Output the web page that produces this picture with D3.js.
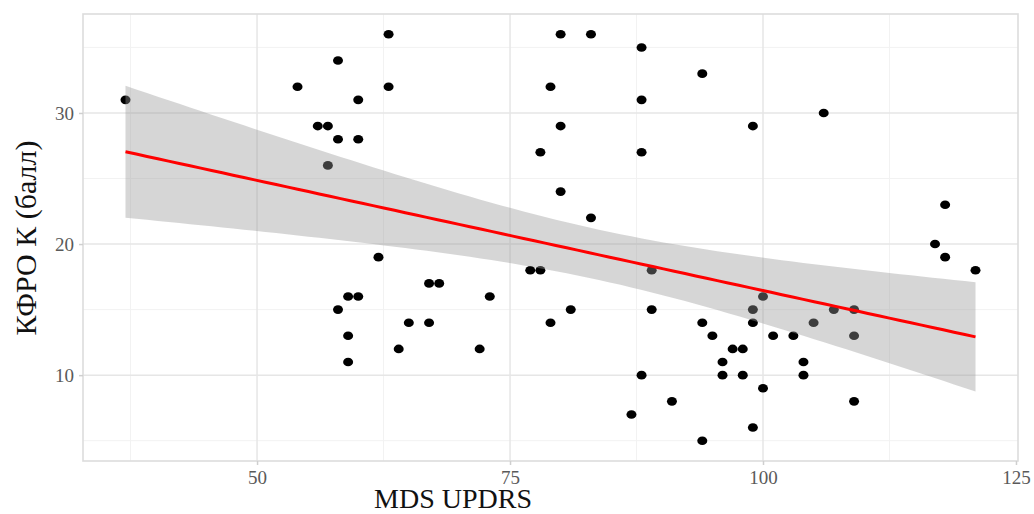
<!DOCTYPE html>
<html>
<head>
<meta charset="utf-8">
<script src="https://cdn.jsdelivr.net/npm/d3@7"></script>
<style>
  html, body { margin: 0; padding: 0; background: #fff; }
  svg { display: block; }
</style>
</head>
<body>
<svg id="chart" width="1034" height="514"></svg>
<script>
// MDS UPDRS score vs КФРО К score, one entry per patient
const updrs = [37, 54, 56, 57, 57, 58, 58, 58, 59, 60, 59, 59, 60, 60, 62, 63, 63, 64, 65, 67,
  68, 67, 72, 73, 77, 78, 78, 79, 79, 80, 80, 80, 81, 83, 83, 87, 88, 88, 88, 88,
  89, 89, 91, 94, 94, 94, 95, 96, 96, 97, 98, 98, 99, 99, 99, 99, 100, 100, 101, 103,
  104, 104, 105, 106, 107, 109, 109, 109, 117, 118, 118, 121];
const kfro = [31, 32, 29, 29, 26, 34, 28, 15, 16, 16, 13, 11, 31, 28, 19, 36, 32, 12, 14, 17,
  17, 14, 12, 16, 18, 18, 27, 32, 14, 36, 29, 24, 15, 36, 22, 7, 35, 31, 27, 10,
  18, 15, 8, 33, 14, 5, 13, 11, 10, 12, 12, 10, 29, 15, 14, 6, 16, 9, 13, 13,
  11, 10, 14, 30, 15, 15, 13, 8, 20, 23, 19, 18];
const xTicks = [50, 75, 100, 125];
const yTicks = [10, 20, 30];
const xTitle = "MDS UPDRS";
const yTitle = "КФРО К (балл)";
// Student t quantile, 0.975, df = n - 2 = 70
const tCrit = 1.994;

const svg = d3.select("#chart");
const m = { left: 83, right: 1018, top: 14, bottom: 461 };

// ggplot-style 5% padding on both scales
const pad = (ext) => { const s = ext[1] - ext[0]; return [ext[0] - 0.05 * s, ext[1] + 0.05 * s]; };
const x = d3.scaleLinear().domain(pad(d3.extent(updrs))).range([m.left, m.right]);
const y = d3.scaleLinear().domain(pad(d3.extent(kfro))).range([m.bottom, m.top]);

// grid: minor then major
const xMinor = d3.range(37.5, 125, 25);
const yMinor = [5, 15, 25, 35];
const g = svg.append("g");
g.selectAll(".xmin").data(xMinor).join("line")
  .attr("x1", d => x(d)).attr("x2", d => x(d)).attr("y1", m.top).attr("y2", m.bottom)
  .attr("stroke", "#f2f2f2").attr("stroke-width", 1);
g.selectAll(".ymin").data(yMinor).join("line")
  .attr("x1", m.left).attr("x2", m.right).attr("y1", d => y(d)).attr("y2", d => y(d))
  .attr("stroke", "#f2f2f2").attr("stroke-width", 1);
g.selectAll(".xmaj").data(xTicks.filter(v => x(v) < m.right - 3)).join("line")
  .attr("x1", d => x(d)).attr("x2", d => x(d)).attr("y1", m.top).attr("y2", m.bottom)
  .attr("stroke", "#e6e6e6").attr("stroke-width", 1.5);
g.selectAll(".ymaj").data(yTicks).join("line")
  .attr("x1", m.left).attr("x2", m.right).attr("y1", d => y(d)).attr("y2", d => y(d))
  .attr("stroke", "#e6e6e6").attr("stroke-width", 1.5);

// points
svg.append("g").selectAll("ellipse").data(updrs.map((u, i) => [u, kfro[i]])).join("ellipse")
  .attr("cx", d => x(d[0])).attr("cy", d => y(d[1]))
  .attr("rx", 5).attr("ry", 4.3).attr("fill", "#000");

// linear fit with 95% confidence band
const n = updrs.length;
const mx = d3.mean(updrs), my = d3.mean(kfro);
let sxx = 0, sxy = 0;
updrs.forEach((u, i) => { sxx += (u - mx) ** 2; sxy += (u - mx) * (kfro[i] - my); });
const b = sxy / sxx, a = my - b * mx;
let sse = 0;
updrs.forEach((u, i) => { sse += (kfro[i] - (a + b * u)) ** 2; });
const s = Math.sqrt(sse / (n - 2));
const [x0, x1] = d3.extent(updrs);
const grid = d3.range(80).map(k => x0 + (x1 - x0) * k / 79);
const fit = grid.map(v => {
  const yh = a + b * v;
  const se = s * Math.sqrt(1 / n + (v - mx) ** 2 / sxx);
  return { v, yh, lo: yh - tCrit * se, hi: yh + tCrit * se };
});
svg.append("path").datum(fit)
  .attr("d", d3.area().x(d => x(d.v)).y0(d => y(d.lo)).y1(d => y(d.hi)))
  .attr("fill", "#999999").attr("fill-opacity", 0.4);
svg.append("path").datum(fit)
  .attr("d", d3.line().x(d => x(d.v)).y(d => y(d.yh)))
  .attr("fill", "none").attr("stroke", "#ff0000").attr("stroke-width", 3);

// panel border
svg.append("rect").attr("x", m.left).attr("y", m.top)
  .attr("width", m.right - m.left).attr("height", m.bottom - m.top)
  .attr("fill", "none").attr("stroke", "#dcdcdc").attr("stroke-width", 1.6);

// axes
const font = "'Liberation Serif', 'Times New Roman', serif";
const xAxis = svg.append("g").attr("transform", `translate(0,${m.bottom})`)
  .call(d3.axisBottom(x).tickValues(xTicks).tickSize(4).tickPadding(5));
const yAxis = svg.append("g").attr("transform", `translate(${m.left},0)`)
  .call(d3.axisLeft(y).tickValues(yTicks).tickSize(4).tickPadding(5));
[xAxis, yAxis].forEach(ax => {
  ax.select(".domain").remove();
  ax.selectAll(".tick line").attr("stroke", "#cfcfcf").attr("stroke-width", 1.5);
  ax.selectAll(".tick text").attr("fill", "#5a5a5a")
    .style("font-family", font).style("font-size", "19px");
});
xAxis.selectAll(".tick text").attr("dy", "0.75em");

svg.append("text").attr("x", 453).attr("y", 508)
  .attr("text-anchor", "middle").attr("fill", "#111")
  .style("font-family", font).style("font-size", "28px").text(xTitle);
svg.append("text").attr("transform", "translate(36,238) rotate(-90)")
  .attr("text-anchor", "middle").attr("fill", "#111")
  .style("font-family", font).style("font-size", "30px").text(yTitle);
</script>
</body>
</html>
